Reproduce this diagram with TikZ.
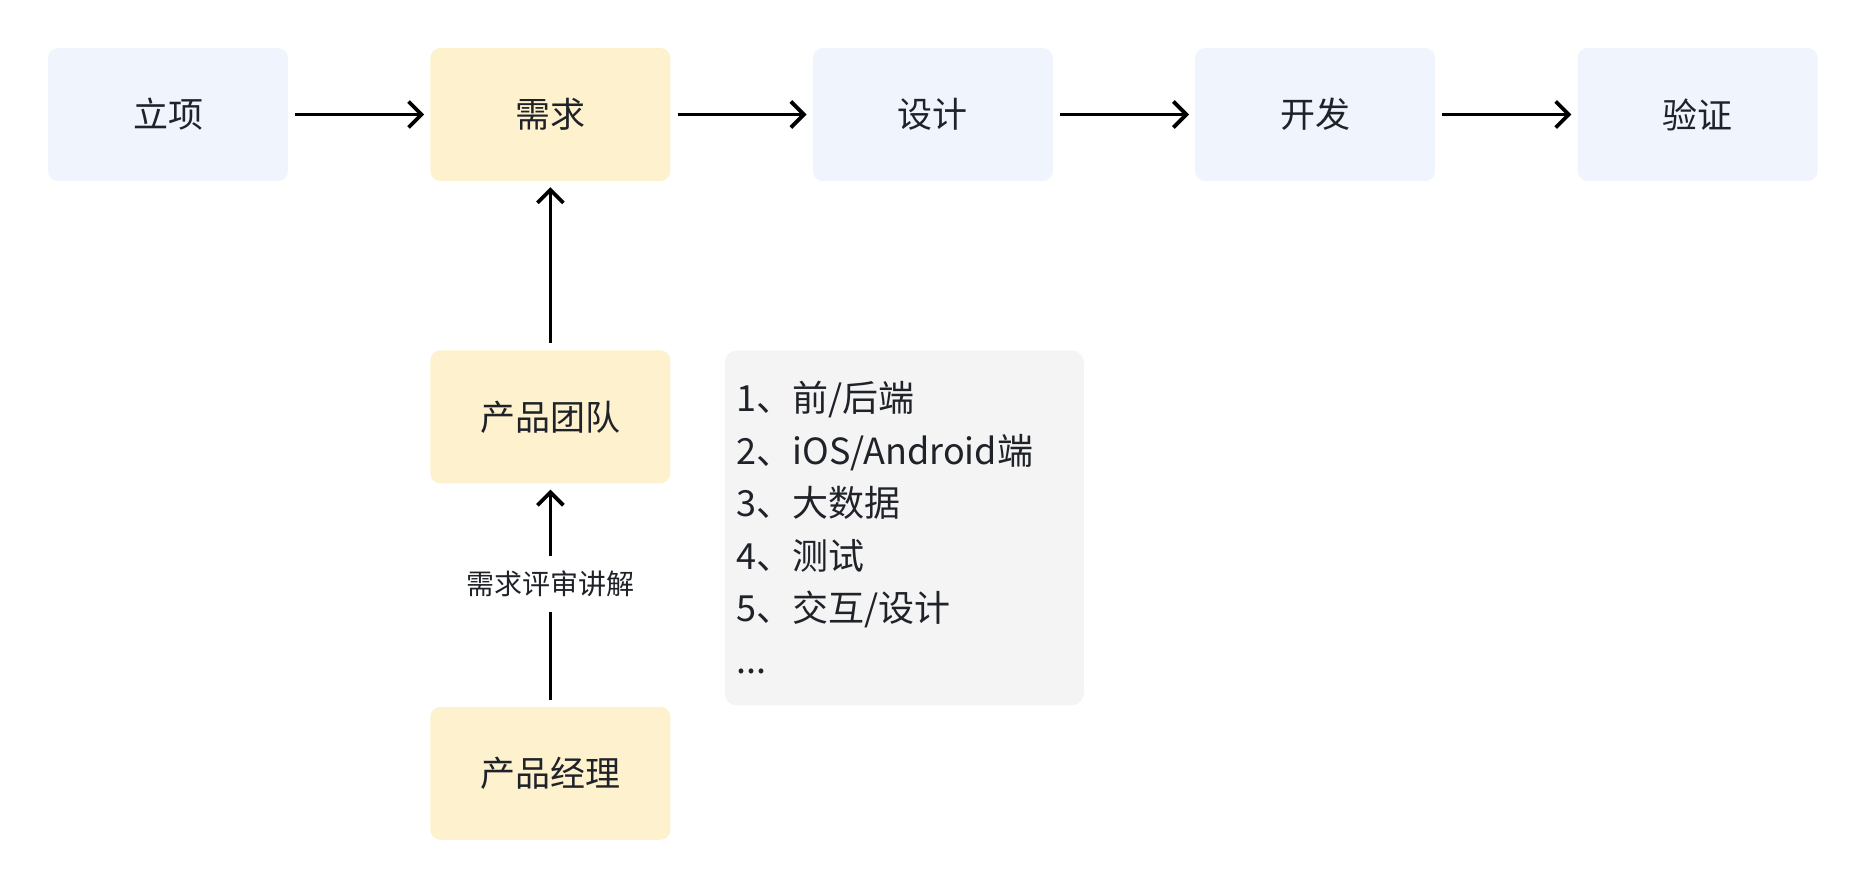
\documentclass[tikz,border=0pt]{standalone}
\usepackage{fontspec}
\setmainfont{Noto Sans CJK SC}
\usetikzlibrary{positioning,arrows.meta}

\definecolor{stageblue}{HTML}{F0F4FD}
\definecolor{stageyellow}{HTML}{FEF1CE}
\definecolor{listgray}{HTML}{F4F4F4}
\definecolor{textdark}{HTML}{1F2329}

\begin{document}
\begin{tikzpicture}[
  x=1pt, y=-1pt,
  stage/.style={rectangle, rounded corners=10pt, minimum width=240pt, minimum height=133pt, inner sep=0pt, text=textdark, font=\fontsize{35}{42}\selectfont},
  listbox/.style={rectangle, rounded corners=12pt, fill=listgray, minimum width=359pt, minimum height=355pt, inner xsep=12pt, inner ysep=0pt, text width=335pt, align=left, text=textdark, font=\fontsize{36}{52.4}\selectfont},
  flow/.style={-{Straight Barb[length=13pt,width=26pt]}, line width=3.8pt, shorten <=7pt, shorten >=6pt},
  node distance=142pt
]

\useasboundingbox (0,0) rectangle (1864,888);

% Top row
\node[stage, fill=stageblue] (lixiang) at (168,114.5) {立项};
\node[stage, fill=stageyellow, right=of lixiang] (xuqiu) {需求};
\node[stage, fill=stageblue, right=of xuqiu] (sheji) {设计};
\node[stage, fill=stageblue, right=of sheji] (kaifa) {开发};
\node[stage, fill=stageblue, right=of kaifa] (yanzheng) {验证};

% Product side
\node[stage, fill=stageyellow, below=169pt of xuqiu] (tuandui) {产品团队};
\node[stage, fill=stageyellow, below=223pt of tuandui] (jingli) {产品经理};

% Team list
\node[listbox, anchor=north west] (roles) at ([xshift=54pt]tuandui.north east) {1、前/后端\\2、iOS/Android端\\3、大数据\\4、测试\\5、交互/设计\\...};

% Arrows
\draw[flow] (lixiang) -- (xuqiu);
\draw[flow] (xuqiu) -- (sheji);
\draw[flow] (sheji) -- (kaifa);
\draw[flow] (kaifa) -- (yanzheng);
\draw[flow] (tuandui) -- (xuqiu);
\draw[flow] (jingli) -- node[pos=0.55, fill=white, inner xsep=4pt, inner ysep=15pt, text=textdark, font=\fontsize{28}{34}\selectfont] (review) {需求评审讲解} (tuandui);

\end{tikzpicture}
\end{document}
